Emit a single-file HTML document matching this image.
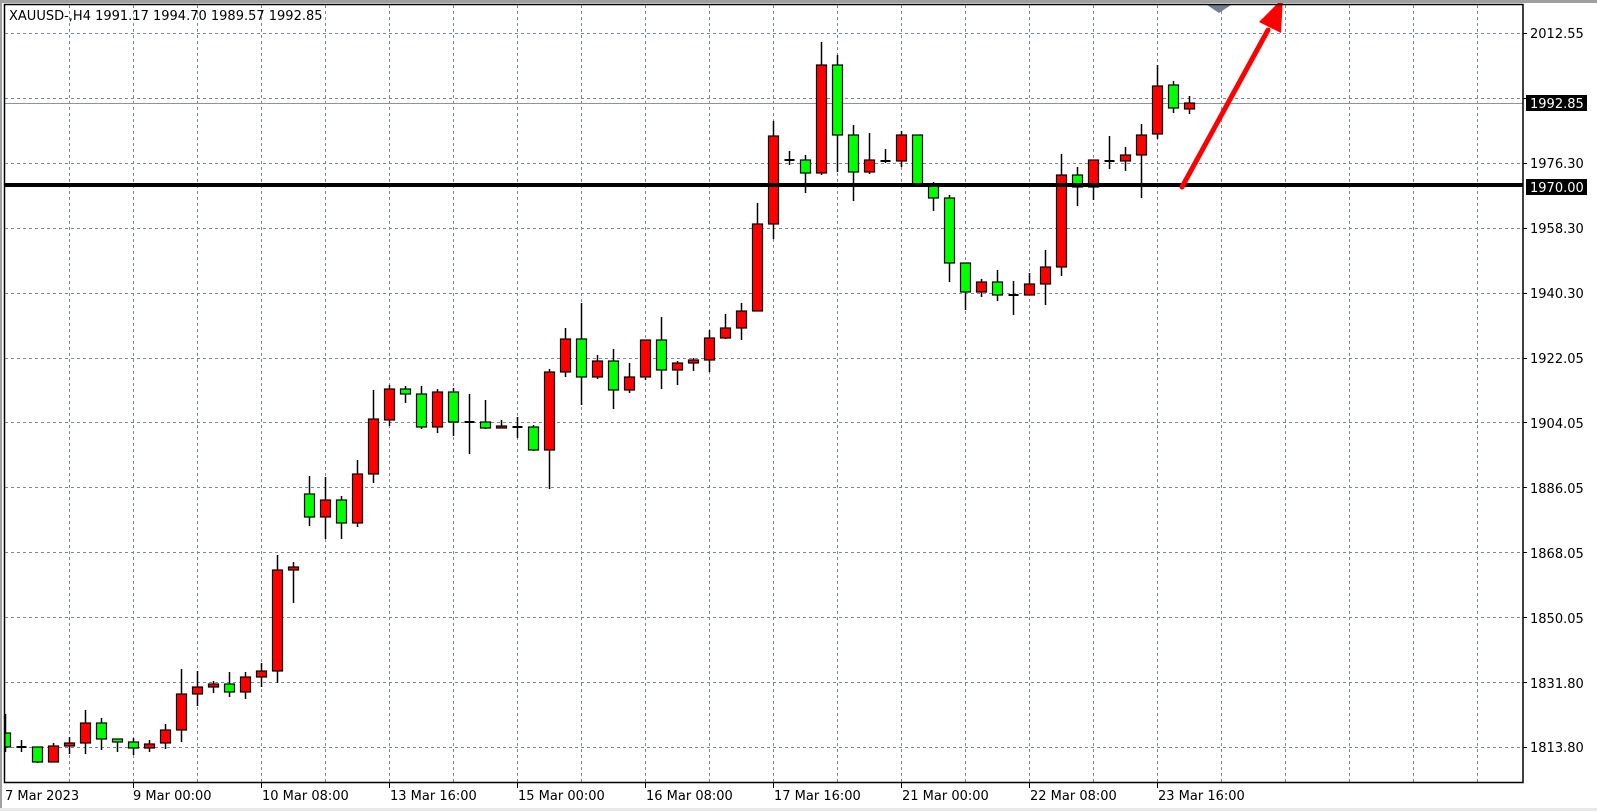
<!DOCTYPE html>
<html><head><meta charset="utf-8"><style>
html,body{margin:0;padding:0;background:#fff;}
svg{display:block;font-family:Tahoma,"DejaVu Sans","Liberation Sans",sans-serif;}
</style></head><body>
<svg id="s" width="1597" height="811" viewBox="0 0 1597 811" xmlns="http://www.w3.org/2000/svg">
<rect x="0" y="0" width="1597" height="811" fill="#fff"/>
<rect x="0" y="0" width="2" height="811" fill="#a0a0a0"/>
<rect x="0" y="808" width="1597" height="3" fill="#e8e8e8"/>
<g id="grid" stroke="#778899" stroke-width="1" stroke-dasharray="3,3"></g>
<line x1="5" y1="103.5" x2="1523" y2="103.5" stroke="#8a94a0" stroke-width="1"/>
<g id="candles"></g>
<line x1="5" y1="185" x2="1523" y2="185" stroke="#000" stroke-width="4"/>
<polygon points="1207,5 1231,5 1219,13" fill="#708090"/>
<g>
<line x1="1182" y1="187" x2="1268" y2="30" stroke="#ff0000" stroke-width="5" stroke-linecap="round"/>
<polygon points="1283,-2 1259,22 1281,33" fill="#ff0000"/>
</g>
<rect x="4.5" y="4.5" width="1518.5" height="778" fill="none" stroke="#000" stroke-width="1.5"/>
<rect x="0" y="0" width="1597" height="3" fill="#a0a0a0"/>
<text x="9" y="20" font-size="13" fill="#000">XAUUSD-,H4  1991.17 1994.70 1989.57 1992.85</text>
<g id="yticks" stroke="#000"></g>
<g font-size="13" fill="#000">
<text x="1530" y="38">2012.55</text>
<text x="1530" y="168">1976.30</text>
<text x="1530" y="233">1958.30</text>
<text x="1530" y="298">1940.30</text>
<text x="1530" y="363">1922.05</text>
<text x="1530" y="428">1904.05</text>
<text x="1530" y="493">1886.05</text>
<text x="1530" y="558">1868.05</text>
<text x="1530" y="623">1850.05</text>
<text x="1530" y="688">1831.80</text>
<text x="1530" y="752">1813.80</text>
</g>
<rect x="1526" y="95" width="61" height="16" fill="#000"/>
<text x="1530" y="108" font-size="13" fill="#fff">1992.85</text>
<rect x="1526" y="179" width="61" height="16" fill="#000"/>
<text x="1530" y="192" font-size="13" fill="#fff">1970.00</text>
<g id="xticks" stroke="#000"></g>
<g font-size="13" fill="#000">
<text x="5" y="800">7 Mar 2023</text>
<text x="133" y="800">9 Mar 00:00</text>
<text x="262" y="800">10 Mar 08:00</text>
<text x="390" y="800">13 Mar 16:00</text>
<text x="518" y="800">15 Mar 00:00</text>
<text x="646" y="800">16 Mar 08:00</text>
<text x="774" y="800">17 Mar 16:00</text>
<text x="902" y="800">21 Mar 00:00</text>
<text x="1030" y="800">22 Mar 08:00</text>
<text x="1158" y="800">23 Mar 16:00</text>
</g>
</svg>
<script>
var NS="http://www.w3.org/2000/svg";
function el(p,t,a){var e=document.createElementNS(NS,t);for(var k in a)e.setAttribute(k,a[k]);p.appendChild(e);return e;}
var g=document.getElementById('grid');
for(var x=69;x<1523;x+=64)el(g,'line',{x1:x+.5,y1:5,x2:x+.5,y2:782});
for(var i=0;i<12;i++){var y=Math.round(33+64.9*i)+.5;el(g,'line',{x1:5,y1:y,x2:1523,y2:y});
 el(document.getElementById('yticks'),'line',{x1:1523,y1:y,x2:1527,y2:y});}
for(var x=133;x<=1158;x+=128)el(document.getElementById('xticks'),'line',{x1:x+.5,y1:783,x2:x+.5,y2:788});
var d=[
[0,'g',733,747,714,752],[1,'d',747,747,740,752],[2,'g',747,762,747,763],[3,'r',746,762,743,762],
[4,'r',743,746,737,754],[5,'r',723,743,710,754],[6,'g',723,739,718,750],[7,'g',739,742,739,752],
[8,'g',742,748,738,755],[9,'r',744,748,740,752],[10,'r',730,743,724,749],[11,'r',694,730,669,742],
[12,'r',687,694,671,706],[13,'r',684,687,681,693],[14,'g',684,692,672,697],[15,'r',677,692,672,699],
[16,'r',671,677,663,687],[17,'r',570,671,555,683],[18,'r',567,570,562,603],
[19,'g',494,517,476,526],[20,'r',500,517,477,539],[21,'g',500,523,496,539],[22,'r',474,523,460,527],
[23,'r',419,474,390,483],[24,'r',389,420,385,426],[25,'g',389,394,386,403],[26,'g',394,427,386,429],
[27,'r',392,427,389,433],[28,'g',392,422,388,436],[29,'d',422,422,394,454],[30,'g',422,428,400,429],
[31,'r',426,428,420,428],[32,'d',427,427,417,438],[33,'g',427,450,425,451],[34,'r',372,450,369,489],
[35,'r',339,372,328,377],[36,'g',339,377,303,405],
[37,'r',361,377,355,379],[38,'g',361,390,349,409],[39,'r',377,390,363,393],[40,'r',340,377,340,380],
[41,'g',340,370,317,389],[42,'r',363,370,361,385],[43,'r',360,363,358,371],[44,'r',338,360,330,372],
[45,'r',328,338,314,339],[46,'r',311,328,303,340],[47,'r',224,311,203,311],[48,'r',136,224,121,239],
[49,'d',160,160,151,165],[50,'g',160,173,155,193],[51,'r',65,173,42,175],[52,'g',65,135,55,172],
[53,'g',135,172,125,201],[54,'r',160,172,133,174],[55,'d',161,161,149,163],
[56,'r',135,161,131,167],[57,'g',135,185,135,185],[58,'g',185,198,182,211],[59,'g',198,263,195,282],
[60,'g',263,292,263,310],[61,'r',282,292,279,297],[62,'g',282,295,270,301],[63,'d',295,295,281,315],
[64,'r',284,295,273,295],[65,'r',267,284,250,305],[66,'r',175,267,154,276],[67,'g',175,187,167,206],
[68,'r',160,187,160,200],[69,'d',161,161,136,169],[70,'r',155,161,147,171],[71,'r',135,155,124,198],
[72,'r',86,134,65,139],[73,'g',85,108,81,113],[74,'r',103,109,96,114]];
var c=document.getElementById('candles');
d.forEach(function(a){
 var x=Math.round(5.3+16*a[0])+.5;
 el(c,'line',{x1:x,y1:a[4],x2:x,y2:a[5],stroke:'#000','stroke-width':1.5});
 if(a[1]=='d'){el(c,'line',{x1:x-5,y1:a[2],x2:x+5,y2:a[2],stroke:'#000','stroke-width':2});return;}
 var l=x-5, w=10; if(l<5){w=w-(5-l);l=5;}
 el(c,'rect',{x:l,y:a[2],width:w,height:Math.max(1,a[3]-a[2]),fill:a[1]=='r'?'#ff0000':'#00ff00',stroke:'#000','stroke-width':1.2});
});
</script>
</body></html>
